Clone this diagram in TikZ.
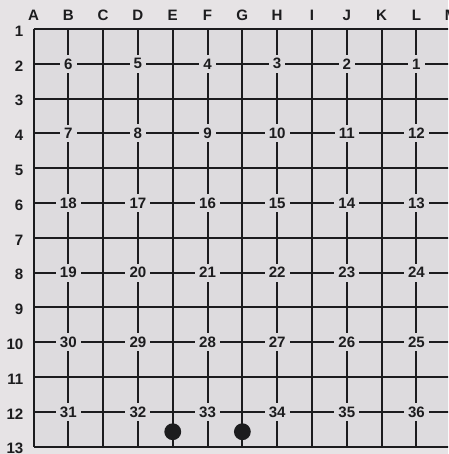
\documentclass[tikz,border=0pt]{standalone}
\usepackage{fontspec}
\setsansfont{Liberation Sans}
\usepackage{tikz}
\definecolor{Paper}{HTML}{DDDBDE}
\definecolor{Margin}{HTML}{E6E3E5}
\definecolor{Ink}{HTML}{1C1C1E}

\begin{document}
\begin{tikzpicture}[
  x=0.6cm,y=-0.6cm,
  gridline/.style={draw=Ink,line width=1pt},
  axislabel/.style={text=Ink,inner sep=0pt,font=\sffamily\bfseries\fontsize{7.4}{8}\selectfont},
  numlabel/.style={fill=Paper,text=Ink,inner xsep=2pt,inner ysep=1.8pt,font=\sffamily\bfseries\fontsize{7.4}{8}\selectfont},
  peg/.style={circle,fill=Ink,minimum size=0.29cm,inner sep=0pt}
]
\useasboundingbox (-0.963,-0.833) rectangle (11.91,12.21);
\clip (-0.963,-0.833) rectangle (11.91,12.21);
\fill[Margin] (-0.963,-0.833) rectangle (11.91,12.21);
\fill[Paper] (0,0) rectangle (12.2,12);

% board lines
\foreach \r in {0,...,12}
  \draw[gridline] (0,\r) -- (12.2,\r);
\foreach \c in {0,...,12}
  \draw[gridline] (\c,0) -- (\c,12);

% letters and row numbers
\foreach \l [count=\i from 0] in {A,...,M}
  \node[axislabel] (col-\l) at (\i,-0.38) {\l};
\foreach \r in {1,...,13}
  \node[axislabel,anchor=east] (row-\r) at (-0.28,{\r-0.94}) {\r};

% numbered points
\foreach \c/\r/\n in {1/1/6,3/1/5,5/1/4,7/1/3,9/1/2,11/1/1,
                      1/3/7,3/3/8,5/3/9,7/3/10,9/3/11,11/3/12,
                      1/5/18,3/5/17,5/5/16,7/5/15,9/5/14,11/5/13,
                      1/7/19,3/7/20,5/7/21,7/7/22,9/7/23,11/7/24,
                      1/9/30,3/9/29,5/9/28,7/9/27,9/9/26,11/9/25,
                      1/11/31,3/11/32,5/11/33,7/11/34,9/11/35,11/11/36}
  \node[numlabel] (pt-\n) at (\c,\r) {\n};

% pegs
\node[peg] (peg-E) at (4,11.57) {};
\node[peg] (peg-G) at (6,11.57) {};
\end{tikzpicture}
\end{document}
